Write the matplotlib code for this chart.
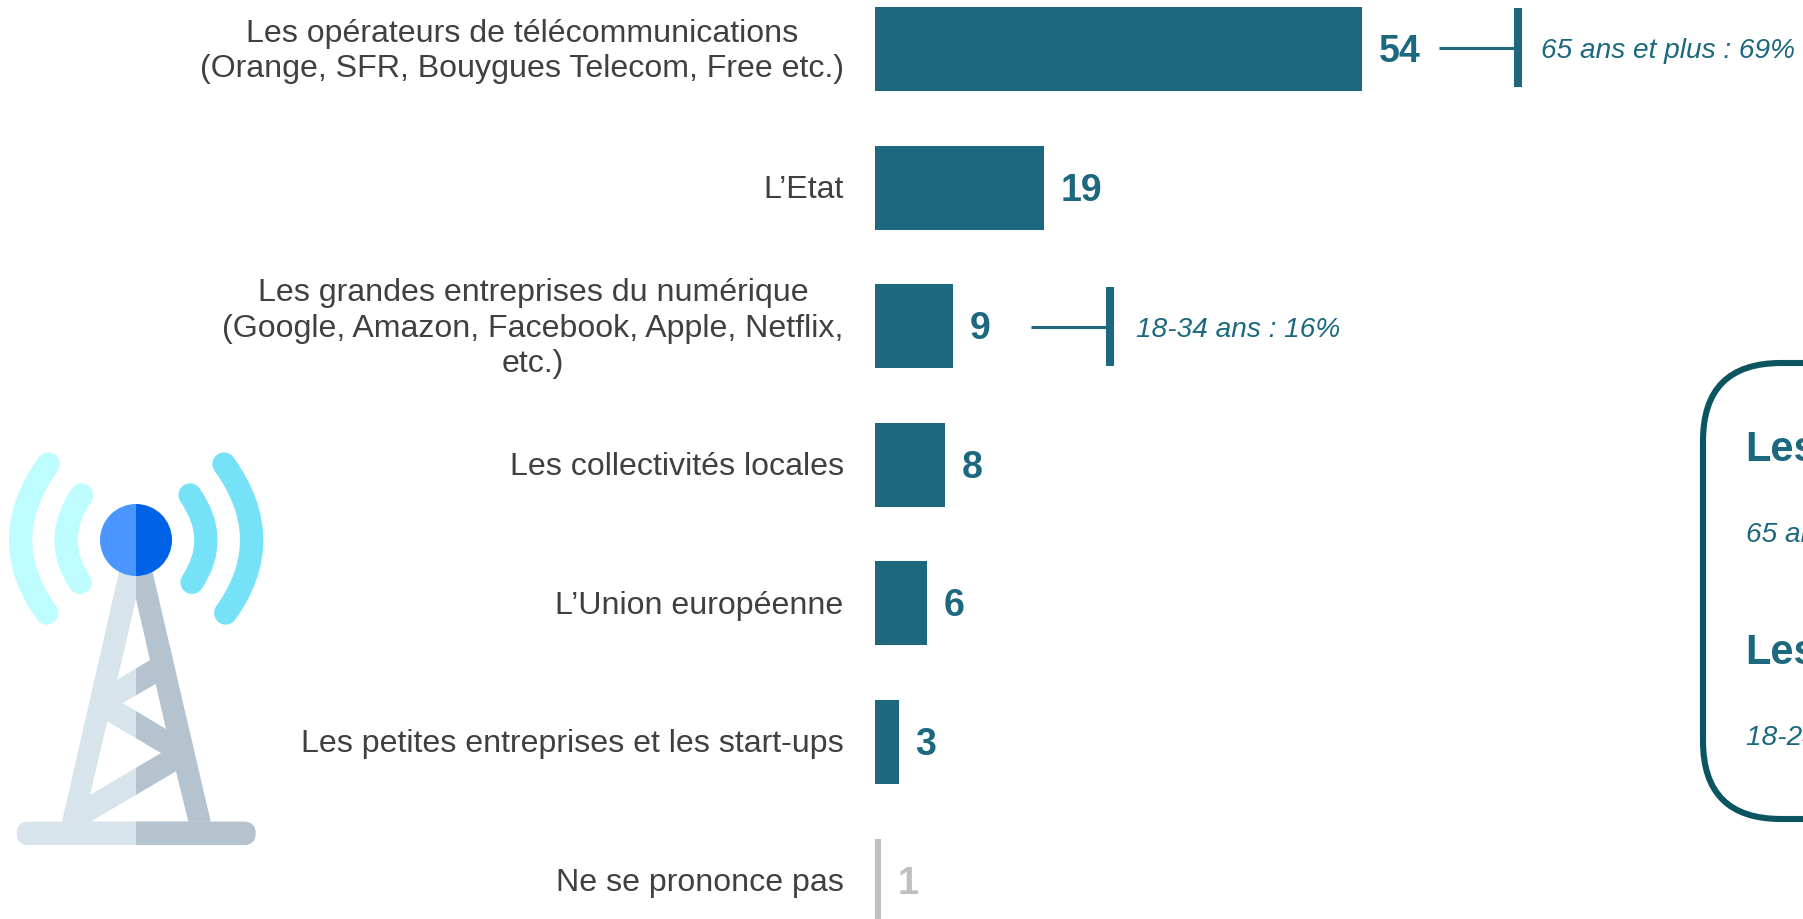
"""Bar chart with callouts, antenna icon and a cropped side box."""

import matplotlib

matplotlib.use("Agg")
import matplotlib.pyplot as plt
from matplotlib.patches import FancyBboxPatch, Polygon, Rectangle, Wedge, PathPatch
from matplotlib.path import Path

plt.rcParams["font.family"] = ["Liberation Sans", "DejaVu Sans"]

W, H = 1803, 920
DPI = 100

categories = [
    "Les opérateurs de télécommunications\n(Orange, SFR, Bouygues Telecom, Free etc.)",
    "L’Etat",
    "Les grandes entreprises du numérique\n(Google, Amazon, Facebook, Apple, Netflix,\netc.)",
    "Les collectivités locales",
    "L’Union européenne",
    "Les petites entreprises et les start-ups",
    "Ne se prononce pas",
]
# bar lengths, the labels are these rounded
values = [54.0, 18.75, 8.65, 7.75, 5.75, 2.65, 0.7]
callout_rows = [0, 2]
callout_texts = ["65 ans et plus : 69%", "18-34 ans : 16%"]
box_titles = ["Les", "Les"]
box_notes = ["65 ans", "18-24 ans"]

BLUE = "#1B687F"
GREY = "#BFBFBF"
TEXT = "#404040"
BOX = "#0B5560"

LIGHT = "#D7E4EB"
DARK = "#B5C3CF"
ARC_L = "#BDFDFF"
ARC_R = "#76E2F8"


def z(x, y):
    # icon was measured on a 3x crop starting at (0, 430)
    return x / 3, 430 + y / 3


def draw_tower(ax):
    for pts, col in [
        ([(358, 430), (408, 430), (408, 1190), (182, 1190)], LIGHT),
        ([(408, 430), (458, 430), (635, 1190), (408, 1190)], DARK),
    ]:
        ax.add_patch(Polygon([z(*p) for p in pts], fc=col, ec="none"))
    holes = [
        [(408, 510), (450, 693), (352, 752)],
        [(467, 765), (498, 900), (368, 822)],
        [(322, 877), (483, 972), (270, 1098)],
        [(528, 1027), (565, 1178), (272, 1178)],
    ]
    for pts in holes:
        ax.add_patch(Polygon([z(*p) for p in pts], fc="white", ec="none"))

    # base, same rounded bar twice with the right half clipped
    x0, y0 = z(50, 1178)
    x1, y1 = z(767, 1248)
    for col, clip in [(LIGHT, False), (DARK, True)]:
        base = FancyBboxPatch((x0, y0), x1 - x0, y1 - y0, boxstyle="round,pad=0,rounding_size=11.6", fc=col, ec="none")
        ax.add_patch(base)
        if clip:
            base.set_clip_path(Rectangle((z(408, 0)[0], y0 - 2), 200, 40, transform=ax.transData))

    arcs = [
        ((145, 105), (62, 330), (140, 552), ARC_L),
        ((245, 198), (198, 330), (240, 460), ARC_L),
        ((672, 105), (755, 330), (677, 552), ARC_R),
        ((570, 198), (618, 330), (576, 460), ARC_R),
    ]
    for a, m, b, col in arcs:
        ctrl = (2 * m[0] - (a[0] + b[0]) / 2, 2 * m[1] - (a[1] + b[1]) / 2)
        path = Path([z(*a), z(*ctrl), z(*b)], [Path.MOVETO, Path.CURVE3, Path.CURVE3])
        ax.add_patch(PathPatch(path, fc="none", ec=col, lw=16.8, capstyle="round"))

    cx, cy = z(408, 333)
    ax.add_patch(Wedge((cx, cy), 36, 90, 270, fc="#4A95FF", ec="none"))
    ax.add_patch(Wedge((cx, cy), 36, -90, 90, fc="#0063E6", ec="none"))


fig = plt.figure(figsize=(W / DPI, H / DPI), dpi=DPI)

# bars: 9.02 px per unit from x=875, rows 138.6 px apart, first centred at y=50
ax = fig.add_axes([0, 0, 1, 1])
ax.set_xlim(-875 / 9.02, (W - 875) / 9.02)
ax.set_ylim((H - 50) / 138.6, -50 / 138.6)
ax.axis("off")

rows = list(range(len(categories)))
colors = [BLUE] * (len(values) - 1) + [GREY]
ax.barh(rows, values, height=0.606, color=colors, linewidth=0)

for i, (cat, val, col) in enumerate(zip(categories, values, colors)):
    ax.annotate(cat, (0, i), xytext=(-22.5, -1), textcoords="offset points", ha="right", va="center",
                multialignment="center", fontsize=23.1, color=TEXT, linespacing=1.25)
    ax.annotate(str(round(val)), (val, i), xytext=(12, -1.5), textcoords="offset points", ha="left", va="center",
                fontsize=27, fontweight="bold", color=col)

# overlay in pixel coordinates for the decoration
deco = fig.add_axes([0, 0, 1, 1], facecolor="none")
deco.set_xlim(0, W)
deco.set_ylim(H, 0)
deco.axis("off")

draw_tower(deco)

callout_x = [1439, 1031]
callout_text_x = [1541, 1136]
for row, txt, x, tx in zip(callout_rows, callout_texts, callout_x, callout_text_x):
    y = 49 + 139.5 * row
    deco.plot([x, x + 78], [y, y], color=BLUE, lw=2.2, solid_capstyle="butt")
    deco.add_patch(Rectangle((x + 75, y - 40), 8, 79, fc=BLUE, ec="none"))
    deco.text(tx, y + 2, txt, ha="left", va="center", fontsize=20.2, style="italic", color=BLUE)

deco.add_patch(FancyBboxPatch((1703, 364), 300, 456, boxstyle="round,pad=0,rounding_size=78", fc="none", ec=BOX, lw=4.4))
for title, note, yt, yn in zip(box_titles, box_notes, [461, 664], [542, 745]):
    deco.text(1745, yt, title, ha="left", va="baseline", fontsize=30, fontweight="bold", color=BLUE)
    deco.text(1746, yn, note, ha="left", va="baseline", fontsize=20.2, style="italic", color=BLUE)

fig.savefig("out.png", dpi=DPI)
